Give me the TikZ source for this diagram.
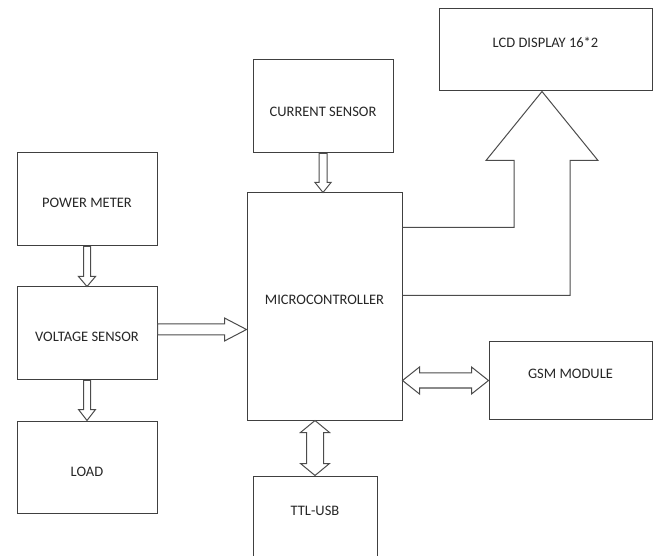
\documentclass[tikz,border=0pt]{standalone}
\usepackage{fontspec}
\setmainfont{Carlito}
\usetikzlibrary{calc,positioning}

% hollow block arrow: from, to, half shaft, half head, head length
\newcommand{\fatarrow}[5]{%
  \coordinate (fa-h) at ($(#2)!#5!(#1)$);
  \draw[blockarrow] ($(#1)!#3!90:(#2)$) -- ($(fa-h)!#3!90:(#2)$) -- ($(fa-h)!#4!90:(#2)$)
    -- (#2) -- ($(fa-h)!#4!-90:(#2)$) -- ($(fa-h)!#3!-90:(#2)$) -- ($(#1)!#3!-90:(#2)$) -- cycle;
}
% same, with a head at both ends
\newcommand{\fatdblarrow}[5]{%
  \coordinate (fa-a) at ($(#1)!#5!(#2)$);
  \coordinate (fa-b) at ($(#2)!#5!(#1)$);
  \draw[blockarrow] (#1) -- ($(fa-a)!#4!90:(#2)$) -- ($(fa-a)!#3!90:(#2)$) -- ($(fa-b)!#3!90:(#2)$)
    -- ($(fa-b)!#4!90:(#2)$) -- (#2) -- ($(fa-b)!#4!-90:(#2)$) -- ($(fa-b)!#3!-90:(#2)$)
    -- ($(fa-a)!#3!-90:(#2)$) -- ($(fa-a)!#4!-90:(#2)$) -- cycle;
}

\begin{document}
\begin{tikzpicture}[x=1pt,y=-1pt,font=\fontsize{14.5}{17}\selectfont,
  blk/.style={draw=black!75,line width=1pt,rectangle,inner sep=0pt,text=black!85,
    text height=10pt,text depth=0pt},
  blockarrow/.style={draw=black!70,line width=1pt,fill=white,line join=miter}]
\useasboundingbox (0,0) rectangle (654,556);

% blocks
\node[blk,minimum width=213pt,minimum height=82pt,text depth=14pt] (lcd) at (545.5,50) {LCD DISPLAY 16*2};
\node[blk,minimum width=140pt,minimum height=93pt,text height=20pt] (cur) at (323,106.5) {CURRENT SENSOR};
\node[blk,minimum width=140pt,minimum height=93pt,text height=17pt] (pm) at (87,199.5) {POWER METER};
\node[blk,minimum width=155pt,minimum height=227pt,text depth=13pt] (mcu) at (324.5,306.5) {MICROCONTROLLER};
\node[blk,minimum width=140pt,minimum height=93pt,text height=17pt] (vs) at (87,333.5) {VOLTAGE SENSOR};
\node[blk,minimum width=163pt,minimum height=77pt,text depth=15pt] (gsm) at (570.5,380.5) {GSM MODULE};
\node[blk,minimum width=140pt,minimum height=92pt,text height=18pt] (load) at (87,467) {LOAD};
\node[blk,minimum width=124pt,minimum height=84pt,text depth=16pt] (ttl) at (315,518) {TTL-USB};

% arrows
\coordinate (c-m) at (cur.south |- mcu.north);
\fatarrow{cur.south}{c-m}{4pt}{8pt}{10pt}
\fatarrow{pm.south}{vs.north}{3.5pt}{8.5pt}{10pt}
\fatarrow{vs.south}{load.north}{3.5pt}{8.5pt}{11pt}
\coordinate (v-o) at ($(vs.east)+(0,-4)$);
\coordinate (v-m) at (v-o -| mcu.west);
\fatarrow{v-o}{v-m}{5.5pt}{11.5pt}{22pt}
\coordinate (m-g) at (mcu.east |- gsm.west);
\fatdblarrow{m-g}{gsm.west}{7.5pt}{13.5pt}{17pt}
\coordinate (m-t) at (ttl.north |- mcu.south);
\fatdblarrow{m-t}{ttl.north}{8.5pt}{14.5pt}{12pt}

% big arrow to the display
\coordinate (tip) at ($(lcd.south)+(-3.5,0)$);
\coordinate (tl) at ($(tip)+(-28,69)$);
\coordinate (tr) at ($(tip)+(28,69)$);
\coordinate (m1) at ($(mcu.north east)+(0,35)$);
\coordinate (m2) at ($(mcu.north east)+(0,103)$);
\draw[blockarrow,fill=none] (m1) -- (m1 -| tl) -- (tl) -- ($(tl)+(-28,0)$) -- (tip)
  -- ($(tr)+(28,0)$) -- (tr) -- (tr |- m2) -- (m2);
\end{tikzpicture}
\end{document}
